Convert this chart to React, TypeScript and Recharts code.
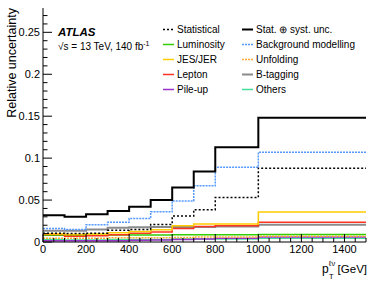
import React from 'react'
import { LineChart, Line, XAxis, YAxis } from 'recharts'

// bin edges in GeV, last bin 1000-1500
const edges = [0, 100, 200, 300, 400, 500, 600, 700, 800, 1000, 1500]

// relative uncertainty per bin
const total = [0.032, 0.030, 0.033, 0.037, 0.042, 0.050, 0.065, 0.084, 0.113, 0.148]
const statistical = [0.0105, 0.010, 0.0105, 0.014, 0.015, 0.021, 0.031, 0.0385, 0.053, 0.088]
const background = [0.016, 0.015, 0.0205, 0.0235, 0.028, 0.036, 0.049, 0.067, 0.089, 0.107]
const luminosity = [0.008, 0.008, 0.008, 0.0082, 0.0083, 0.0083, 0.0085, 0.0085, 0.0085, 0.009]
const jesJer = [0.0095, 0.009, 0.0095, 0.011, 0.0125, 0.0145, 0.0195, 0.0215, 0.0215, 0.0357]
const lepton = [0.009, 0.007, 0.0075, 0.0085, 0.0105, 0.012, 0.016, 0.0185, 0.0195, 0.0235]
const bTagging = [0.0135, 0.0135, 0.015, 0.017, 0.0175, 0.018, 0.018, 0.018, 0.0185, 0.0205]
const unfolding = [0.0045, 0.0045, 0.0045, 0.005, 0.005, 0.005, 0.0055, 0.006, 0.006, 0.007]
const pileUp = [0.0015, 0.0015, 0.0015, 0.0015, 0.002, 0.0025, 0.003, 0.0035, 0.0045, 0.006]
const others = [0.003, 0.0025, 0.0025, 0.003, 0.003, 0.003, 0.0035, 0.0035, 0.0035, 0.0045]

const xTicks = Array.from({ length: 31 }, (_, i) => i * 50)
const yTicks = Array.from({ length: 28 }, (_, i) => i / 100)

const series = [
  { key: 'others', label: 'Others', values: others, color: '#44dd99', dash: undefined, width: 1.5 },
  { key: 'pileUp', label: 'Pile-up', values: pileUp, color: '#9933cc', dash: undefined, width: 1.5 },
  { key: 'unfolding', label: 'Unfolding', values: unfolding, color: '#ffaa33', dash: '2 1', width: 1.5 },
  { key: 'luminosity', label: 'Luminosity', values: luminosity, color: '#33cc00', dash: undefined, width: 1.5 },
  { key: 'bTagging', label: 'B-tagging', values: bTagging, color: '#8a8a8a', dash: undefined, width: 2 },
  { key: 'lepton', label: 'Lepton', values: lepton, color: '#ff3322', dash: undefined, width: 1.5 },
  { key: 'jesJer', label: 'JES/JER', values: jesJer, color: '#ffcc00', dash: undefined, width: 1.5 },
  { key: 'background', label: 'Background modelling', values: background, color: '#5599ff', dash: '2 1', width: 1.5 },
  { key: 'statistical', label: 'Statistical', values: statistical, color: '#000000', dash: '2 2', width: 1.5 },
  { key: 'total', label: 'Stat. \u2295 syst. unc.', values: total, color: '#000000', dash: undefined, width: 2 },
]

const data = edges.map((pt, i) => {
  const row: Record<string, number> = { pt }
  series.forEach((s) => {
    row[s.key] = s.values[Math.min(i, s.values.length - 1)]
  })
  return row
})

const legendLeft = ['statistical', 'luminosity', 'jesJer', 'lepton', 'pileUp']
const legendRight = ['total', 'background', 'unfolding', 'bTagging', 'others']

const font = '"Liberation Sans", Arial, sans-serif'

const BottomTick = (props: any) => {
  const { x, y, payload } = props
  const major = payload.value % 200 === 0
  return (
    <g>
      <line x1={x} x2={x} y1={y} y2={y - (major ? 8 : 4)} stroke="#000" />
      {major && (
        <text x={x} y={y + 11} textAnchor="middle" fontSize={11} fontFamily={font} fill="#000">
          {payload.value}
        </text>
      )}
    </g>
  )
}

const TopTick = (props: any) => {
  const { x, y, payload } = props
  const major = payload.value % 200 === 0
  return <line x1={x} x2={x} y1={y} y2={y + (major ? 8 : 4)} stroke="#000" />
}

const LeftTick = (props: any) => {
  const { x, y, payload } = props
  const major = Math.round(payload.value * 100) % 5 === 0
  return (
    <g>
      <line x1={x} x2={x + (major ? 9 : 4.5)} y1={y} y2={y} stroke="#000" />
      {major && (
        <text x={x - 3} y={y + 4} textAnchor="end" fontSize={11} fontFamily={font} fill="#000">
          {String(Math.round(payload.value * 100) / 100)}
        </text>
      )}
    </g>
  )
}

const RightTick = (props: any) => {
  const { x, y, payload } = props
  const major = Math.round(payload.value * 100) % 5 === 0
  return <line x1={x} x2={x - (major ? 9 : 4.5)} y1={y} y2={y} stroke="#000" />
}

function LegendItem({ id, x, y }: { id: string; x: number; y: number }) {
  const s = series.find((d) => d.key === id)!
  return (
    <g>
      <line x1={x} x2={x + 11} y1={y} y2={y} stroke={s.color} strokeWidth={s.width} strokeDasharray={s.dash} />
      <text x={x + 14} y={y + 3.5} fontSize={10} fontFamily={font} fill="#000">
        {s.label}
      </text>
    </g>
  )
}

export default function App() {
  return (
    <div style={{ position: 'absolute', left: 0, top: 0, width: 374, height: 284, background: '#fff' }}>
      <LineChart width={374} height={284} data={data} margin={{ top: 8, right: 8, bottom: 0, left: 0 }}>
        <XAxis
          dataKey="pt"
          type="number"
          domain={[0, 1500]}
          ticks={xTicks}
          interval={0}
          height={42}
          tickSize={0}
          tickMargin={0}
          tickLine={false}
          axisLine={{ stroke: '#000' }}
          tick={BottomTick}
          allowDataOverflow
        />
        <XAxis
          xAxisId="top"
          orientation="top"
          dataKey="pt"
          type="number"
          domain={[0, 1500]}
          ticks={xTicks}
          interval={0}
          height={0}
          tickSize={0}
          tickMargin={0}
          tickLine={false}
          axisLine={{ stroke: '#000' }}
          tick={TopTick}
          allowDataOverflow
        />
        <YAxis
          type="number"
          domain={[0, 0.279]}
          ticks={yTicks}
          interval={0}
          width={43}
          tickSize={0}
          tickMargin={0}
          tickLine={false}
          axisLine={{ stroke: '#000' }}
          tick={LeftTick}
          allowDataOverflow
        />
        <YAxis
          yAxisId="right"
          orientation="right"
          type="number"
          domain={[0, 0.279]}
          ticks={yTicks}
          interval={0}
          width={0}
          tickSize={0}
          tickMargin={0}
          tickLine={false}
          axisLine={{ stroke: '#000' }}
          tick={RightTick}
          allowDataOverflow
        />
        {series.map((s) => (
          <Line
            key={s.key}
            type="stepAfter"
            dataKey={s.key}
            stroke={s.color}
            strokeWidth={s.width}
            strokeDasharray={s.dash}
            dot={false}
            activeDot={false}
            isAnimationActive={false}
          />
        ))}
      </LineChart>
      <svg width={374} height={284} style={{ position: 'absolute', left: 0, top: 0, pointerEvents: 'none' }}>
        <text
          transform="translate(16,8) rotate(-90)"
          textAnchor="end"
          fontSize={12.5}
          fontFamily={font}
          fill="#000"
        >
          Relative uncertainty
        </text>
        <text x={58} y={36} fontSize={11.5} fontWeight="bold" fontStyle="italic" fontFamily={font} fill="#000">
          ATLAS
        </text>
        <text x={58} y={50} fontSize={10} fontFamily={font} fill="#000">
          {'\u221As = 13 TeV, 140 fb'}
          <tspan dy={-4} fontSize={7}>-1</tspan>
        </text>
        {legendLeft.map((id, i) => (
          <LegendItem key={id} id={id} x={163} y={29.5 + i * 15} />
        ))}
        {legendRight.map((id, i) => (
          <LegendItem key={id} id={id} x={242} y={29.5 + i * 15} />
        ))}
        <text x={322} y={273} fontSize={12} fontFamily={font} fill="#000">p</text>
        <text x={329} y={266} fontSize={7.5} fontFamily={font} fill="#000">{'\u2113\u03bd'}</text>
        <text x={329} y={279} fontSize={7.5} fontFamily={font} fill="#000">T</text>
        <text x={367} y={273} textAnchor="end" fontSize={11.5} fontFamily={font} fill="#000">[GeV]</text>
      </svg>
    </div>
  )
}
